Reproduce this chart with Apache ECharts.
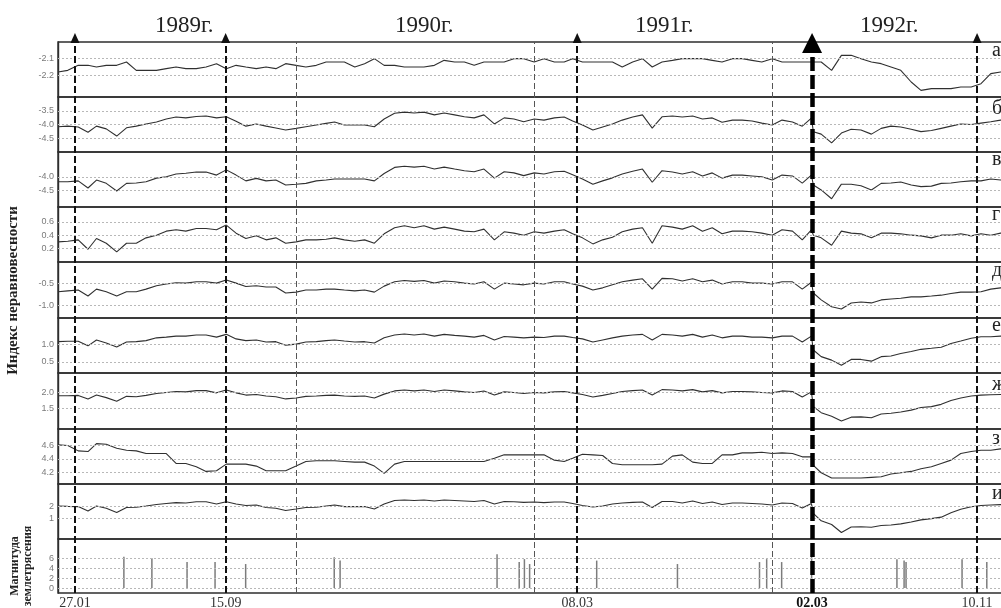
<!DOCTYPE html>
<html><head><meta charset="utf-8">
<script src="https://cdn.jsdelivr.net/npm/echarts@6/dist/echarts.min.js"></script>
<style>html,body{margin:0;padding:0;background:#fff}#c{width:1001px;height:608px}</style>
</head><body><div id="c"></div>
<script>
// sample dates (semi-monthly, extra point just after 02.03.1992)
const dates = [
'1989-01-01','1989-01-16','1989-02-01','1989-02-16','1989-03-01','1989-03-16','1989-04-01','1989-04-16','1989-05-01','1989-05-16','1989-06-01','1989-06-16','1989-07-01','1989-07-16','1989-08-01','1989-08-16','1989-09-01','1989-09-16','1989-10-01','1989-10-16','1989-11-01','1989-11-16','1989-12-01','1989-12-16',
'1990-01-01','1990-01-16','1990-02-01','1990-02-16','1990-03-01','1990-03-16','1990-04-01','1990-04-16','1990-05-01','1990-05-16','1990-06-01','1990-06-16','1990-07-01','1990-07-16','1990-08-01','1990-08-16','1990-09-01','1990-09-16','1990-10-01','1990-10-16','1990-11-01','1990-11-16','1990-12-01','1990-12-16',
'1991-01-01','1991-01-16','1991-02-01','1991-02-16','1991-03-01','1991-03-16','1991-04-01','1991-04-16','1991-05-01','1991-05-16','1991-06-01','1991-06-16','1991-07-01','1991-07-16','1991-08-01','1991-08-16','1991-09-01','1991-09-16','1991-10-01','1991-10-16','1991-11-01','1991-11-16','1991-12-01','1991-12-16',
'1992-01-01','1992-01-16','1992-02-01','1992-02-16','1992-03-01','1992-03-04','1992-03-16','1992-04-01','1992-04-16','1992-05-01','1992-05-16','1992-06-01','1992-06-16','1992-07-01','1992-07-16','1992-08-01','1992-08-16','1992-09-01','1992-09-16','1992-10-01','1992-10-16','1992-11-01','1992-11-16','1992-12-01','1992-12-16','1993-01-01'];

const seriesA = [
-2.18,-2.17,-2.14,-2.14,-2.15,-2.14,-2.14,-2.12,-2.17,-2.17,-2.17,-2.16,-2.15,-2.16,-2.16,-2.15,-2.13,-2.16,-2.14,-2.15,-2.16,-2.15,-2.16,-2.13,
-2.14,-2.15,-2.14,-2.12,-2.12,-2.12,-2.15,-2.13,-2.10,-2.14,-2.14,-2.15,-2.15,-2.15,-2.14,-2.11,-2.12,-2.12,-2.14,-2.12,-2.12,-2.12,-2.10,-2.10,
-2.12,-2.10,-2.12,-2.12,-2.10,-2.12,-2.12,-2.12,-2.12,-2.15,-2.12,-2.10,-2.15,-2.12,-2.11,-2.10,-2.10,-2.10,-2.11,-2.12,-2.10,-2.10,-2.11,-2.12,
-2.10,-2.12,-2.12,-2.12,-2.12,-2.12,-2.12,-2.17,-2.08,-2.08,-2.10,-2.12,-2.13,-2.15,-2.17,-2.24,-2.29,-2.28,-2.28,-2.28,-2.27,-2.27,-2.25,-2.19,-2.18,-2.18];
const seriesB = [
-4.08,-4.06,-4.09,-4.28,-4.06,-4.16,-4.42,-4.12,-4.06,-3.98,-3.91,-3.80,-3.73,-3.76,-3.71,-3.69,-3.76,-3.72,-3.88,-4.06,-3.98,-4.06,-4.13,-4.20,
-4.14,-4.08,-4.02,-3.96,-3.91,-4.02,-4.02,-4.02,-4.08,-3.80,-3.59,-3.55,-3.58,-3.55,-3.65,-3.58,-3.65,-3.72,-3.76,-3.65,-3.98,-3.76,-3.80,-3.90,
-3.80,-3.84,-3.76,-3.73,-3.87,-4.02,-4.20,-4.09,-3.98,-3.84,-3.73,-3.65,-4.13,-3.72,-3.69,-3.73,-3.69,-3.80,-3.76,-3.92,-3.84,-3.84,-3.87,-3.95,
-4.02,-3.84,-3.91,-4.06,-3.77,-4.26,-4.35,-4.67,-4.31,-4.17,-4.20,-4.35,-4.14,-4.06,-4.09,-4.17,-4.26,-4.22,-4.14,-4.06,-3.98,-4.00,-3.95,-3.90,-3.84,-3.84];
const seriesC = [
-4.18,-4.18,-4.15,-4.41,-4.12,-4.24,-4.52,-4.24,-4.23,-4.18,-4.05,-4.00,-3.90,-3.87,-3.83,-3.83,-3.94,-3.75,-3.94,-4.15,-4.06,-4.15,-4.12,-4.30,
-4.27,-4.24,-4.15,-4.12,-4.08,-4.08,-4.08,-4.08,-4.15,-3.88,-3.66,-3.62,-3.65,-3.62,-3.72,-3.65,-3.72,-3.78,-3.82,-3.72,-4.05,-3.82,-3.86,-3.96,
-3.86,-3.90,-3.82,-3.80,-3.93,-4.08,-4.27,-4.15,-4.04,-3.90,-3.80,-3.72,-4.20,-3.78,-3.83,-3.90,-3.82,-3.97,-3.86,-4.05,-3.94,-3.94,-3.97,-4.00,
-4.12,-3.94,-3.97,-4.23,-3.94,-4.30,-4.48,-4.80,-4.27,-4.27,-4.33,-4.48,-4.24,-4.23,-4.19,-4.30,-4.36,-4.34,-4.24,-4.23,-4.18,-4.15,-4.15,-4.08,-4.12,-4.12];
const seriesD = [
0.30,0.31,0.33,0.19,0.35,0.28,0.15,0.28,0.28,0.36,0.40,0.46,0.48,0.46,0.50,0.50,0.48,0.55,0.43,0.35,0.39,0.33,0.36,0.28,
0.30,0.33,0.33,0.34,0.36,0.33,0.31,0.33,0.28,0.42,0.51,0.54,0.51,0.54,0.49,0.52,0.49,0.46,0.45,0.49,0.33,0.45,0.43,0.40,
0.45,0.43,0.46,0.48,0.42,0.36,0.27,0.33,0.37,0.45,0.49,0.51,0.28,0.54,0.52,0.49,0.54,0.46,0.51,0.42,0.46,0.46,0.45,0.43,
0.40,0.48,0.46,0.33,0.48,0.40,0.36,0.25,0.46,0.43,0.42,0.36,0.43,0.43,0.42,0.40,0.39,0.36,0.40,0.40,0.42,0.39,0.42,0.40,0.43,0.43];
const seriesE = [
-0.69,-0.67,-0.65,-0.79,-0.63,-0.69,-0.79,-0.69,-0.69,-0.63,-0.55,-0.51,-0.48,-0.49,-0.46,-0.46,-0.49,-0.42,-0.49,-0.57,-0.55,-0.58,-0.58,-0.72,
-0.70,-0.65,-0.65,-0.63,-0.63,-0.65,-0.67,-0.65,-0.70,-0.56,-0.46,-0.43,-0.45,-0.43,-0.49,-0.44,-0.46,-0.49,-0.51,-0.46,-0.63,-0.49,-0.51,-0.53,
-0.49,-0.51,-0.46,-0.46,-0.51,-0.56,-0.65,-0.60,-0.53,-0.46,-0.42,-0.39,-0.63,-0.38,-0.39,-0.44,-0.39,-0.46,-0.42,-0.51,-0.46,-0.46,-0.49,-0.49,
-0.51,-0.46,-0.46,-0.63,-0.47,-0.72,-0.88,-1.04,-1.09,-0.95,-0.93,-0.95,-0.88,-0.86,-0.84,-0.81,-0.81,-0.79,-0.77,-0.73,-0.70,-0.70,-0.69,-0.63,-0.60,-0.60];
const seriesF = [
1.08,1.09,1.09,0.96,1.13,1.04,0.93,1.07,1.08,1.11,1.19,1.21,1.24,1.24,1.27,1.27,1.21,1.29,1.16,1.11,1.13,1.07,1.08,0.98,
1.01,1.07,1.08,1.11,1.13,1.10,1.07,1.08,1.04,1.19,1.27,1.30,1.27,1.30,1.24,1.29,1.26,1.24,1.21,1.26,1.13,1.23,1.21,1.19,
1.21,1.20,1.24,1.24,1.20,1.16,1.07,1.13,1.19,1.24,1.27,1.29,1.13,1.29,1.27,1.24,1.29,1.21,1.27,1.19,1.24,1.24,1.21,1.21,
1.19,1.24,1.24,1.07,1.24,0.84,0.65,0.55,0.40,0.57,0.57,0.52,0.65,0.67,0.74,0.80,0.86,0.89,0.92,1.03,1.10,1.18,1.22,1.22,1.24,1.24];
const seriesG = [
1.89,1.89,1.90,1.79,1.91,1.83,1.72,1.87,1.86,1.90,1.96,1.99,2.02,2.01,2.05,2.05,1.98,2.07,1.98,1.91,1.93,1.88,1.86,1.79,
1.82,1.87,1.88,1.90,1.91,1.88,1.87,1.88,1.82,1.94,2.04,2.07,2.04,2.07,2.02,2.07,2.04,2.01,1.99,2.04,1.91,2.01,1.99,1.96,
1.99,1.98,2.01,2.02,1.98,1.93,1.85,1.90,1.96,2.02,2.05,2.07,1.91,2.08,2.07,2.04,2.08,2.01,2.05,1.98,2.02,2.02,2.01,1.99,
1.98,2.04,2.02,1.85,2.01,1.55,1.36,1.25,1.10,1.22,1.23,1.20,1.32,1.34,1.38,1.44,1.52,1.55,1.62,1.74,1.82,1.88,1.91,1.92,1.93,1.93];
const seriesH = [
4.61,4.60,4.52,4.51,4.63,4.62,4.56,4.53,4.52,4.48,4.48,4.48,4.33,4.33,4.28,4.21,4.22,4.32,4.32,4.32,4.29,4.22,4.22,4.22,
4.29,4.36,4.37,4.37,4.37,4.36,4.35,4.35,4.29,4.18,4.32,4.36,4.36,4.36,4.36,4.36,4.36,4.36,4.36,4.36,4.41,4.46,4.46,4.46,
4.46,4.46,4.38,4.36,4.41,4.47,4.46,4.45,4.33,4.31,4.31,4.31,4.31,4.32,4.44,4.46,4.35,4.33,4.33,4.46,4.46,4.49,4.49,4.50,
4.48,4.49,4.48,4.43,4.43,4.30,4.19,4.11,4.11,4.11,4.11,4.12,4.13,4.17,4.19,4.21,4.25,4.28,4.33,4.38,4.48,4.51,4.53,4.53,4.55,4.55];
const seriesI = [
2.01,1.98,1.96,1.60,2.01,1.82,1.48,1.89,1.91,2.01,2.13,2.21,2.28,2.25,2.36,2.36,2.17,2.36,2.17,2.05,2.09,1.89,1.82,1.64,
1.76,1.89,1.91,2.01,2.09,1.96,1.96,1.96,1.76,2.17,2.46,2.50,2.46,2.50,2.42,2.50,2.46,2.42,2.38,2.46,2.17,2.38,2.36,2.30,
2.33,2.28,2.33,2.33,2.21,2.05,1.93,2.01,2.17,2.25,2.30,2.33,1.89,2.38,2.38,2.25,2.42,2.21,2.33,2.13,2.25,2.25,2.21,2.17,
2.09,2.25,2.21,1.84,2.21,1.41,0.80,0.50,-0.15,0.30,0.32,0.28,0.42,0.46,0.55,0.70,0.88,0.98,1.10,1.45,1.75,1.95,2.05,2.09,2.12,2.12];

// earthquakes
const eqDates = ['1989-04-11','1989-05-24','1989-07-17','1989-08-29','1989-10-15','1990-02-28','1990-03-09','1990-11-05','1990-12-09','1990-12-17','1990-12-25','1991-04-07','1991-08-09','1991-12-13','1991-12-24','1992-01-16','1992-03-02','1992-07-11','1992-07-22','1992-07-25','1992-10-19','1992-11-26'];
const eqMags = [6.4,6.1,5.3,5.3,4.9,6.3,5.6,6.9,5.3,5.9,4.9,5.6,4.9,5.3,5.9,5.3,6.9,5.9,5.6,5.3,5.9,5.3];

// axis ticks per panel
const panelTicks = [[-2.1,-2.2],[-3.5,-4.0,-4.5],[-4.0,-4.5],[0.6,0.4,0.2],[-0.5,-1.0],[1.0,0.5],[2.0,1.5],[4.6,4.4,4.2],[2,1],[6,4,2,0]];
const panelDecimals = [1,1,1,1,1,1,1,1,0,0];
const panelMin = [-2.33,-5.0,-5.1,0,-1.3,0.18,0.85,4.02,-0.68,-1];
const panelMax = [-2.0,-3.0,-3.1,0.82,0,1.76,2.6,4.85,3.8,10];
const panelLetters = ['а','б','в','г','д','е','ж','з','и'];
const yearLabels = ['1989г.','1990г.','1991г.','1992г.'];
const yearLineDates = ['1990-01-01','1991-01-01','1992-01-01'];
const eventDates = ['1989-01-27','1989-09-15','1991-03-08','1992-11-10'];
const eventLabels = ['27.01','15.09','08.03','10.11'];
const mainEventDate = '1992-03-02';
const mainEventLabel = '02.03';

// layout
const tops = [42,97,152,207,262,318,373,429,484,539];
const plotBottom = 593;
const letterTops = [41,99,150,205,261,316,375,429,484];
const yearLefts = [155,395,635,860];

const lineVals = [seriesA,seriesB,seriesC,seriesD,seriesE,seriesF,seriesG,seriesH,seriesI];
const X0 = '1989-01-01', X1 = '1993-01-01';
const grids = [], xAxes = [], yAxes = [], series = [];
function addGrid(top, height, show) {
  grids.push({left:58, right:-10, top:top, height:height, show:show, containLabel:false, outerBoundsMode:'none',
    borderColor:'#2e2e2e', borderWidth:1.4, backgroundColor:'rgba(0,0,0,0)'});
  const g = grids.length - 1;
  xAxes.push({type:'time', gridIndex:g, min:X0, max:X1, show:false});
  return g;
}
const hidY = (g) => ({type:'value', gridIndex:g, min:0, max:1, axisLine:{show:false}, axisTick:{show:false}, axisLabel:{show:false}, splitLine:{show:false}});

for (let p = 0; p < 10; p++) {
  const top = tops[p];
  const h = (p < 9 ? tops[p+1] : plotBottom) - top;
  const g = addGrid(top, h, true);
  const dec = panelDecimals[p];
  const y = {type:'value', gridIndex:g, min:panelMin[p], max:panelMax[p],
    axisLine:{show:true, lineStyle:{color:'#2e2e2e', width:1.4}},
    axisTick:{show:false, customValues:panelTicks[p]}, splitLine:{show:false},
    axisLabel:{customValues:panelTicks[p], interval:0, hideOverlap:false, formatter:(v)=>Number(v).toFixed(dec),
      color:'#7a7a7a', fontSize:9, fontFamily:'Liberation Sans', margin:4}};
  if (p === 9) {
    y.name = 'Магнитуда\nземлетрясения'; y.nameLocation = 'middle'; y.nameRotate = 90; y.nameGap = 24;
    y.nameTextStyle = {fontFamily:'Liberation Serif', fontWeight:'bold', fontSize:12, color:'#222', lineHeight:13};
  }
  yAxes.push(y);
  const ml = {silent:true, animation:false, symbol:['none','none'], label:{show:false},
    lineStyle:{color:'#b8b8b8', type:[2,2], width:1}, emphasis:{disabled:true},
    data: panelTicks[p].map(v => ({yAxis:v}))};
  if (p < 9) {
    series.push({type:'line', xAxisIndex:g, yAxisIndex:g, silent:true, animation:false, symbol:'none', showSymbol:false,
      lineStyle:{color:'#303030', width:1.1}, data: dates.map((d,i)=>[d, lineVals[p][i]]), markLine: ml});
  } else {
    series.push({type:'bar', xAxisIndex:g, yAxisIndex:g, silent:true, animation:false, barWidth:1.5,
      itemStyle:{color:'#7c7c7c'}, data: eqDates.map((d,i)=>[d, eqMags[i]]), markLine: ml});
  }
}
// overlay for the common y name (panels а–и)
const gName = addGrid(tops[0], tops[9]-tops[0], false);
const yn = hidY(gName); yn.name = 'Индекс неравновесности'; yn.nameLocation = 'middle'; yn.nameRotate = 90; yn.nameGap = 37;
yn.nameTextStyle = {fontFamily:'Liberation Serif', fontWeight:'bold', fontSize:15, color:'#222'};
yAxes.push(yn);
// overlay for year boundaries
const gYear = addGrid(tops[0], plotBottom - tops[0], false);
yAxes.push(hidY(gYear));
series.push({type:'line', xAxisIndex:gYear, yAxisIndex:gYear, data:[], silent:true, animation:false, clip:false,
  markLine:{silent:true, animation:false, symbol:['none','none'], label:{show:false}, lineStyle:{color:'#555', width:1, type:[6,3]},
    data: yearLineDates.map(d => ({xAxis:d}))}});
// overlay for thin event arrows
const gThin = addGrid(38, plotBottom - 38, false);
yAxes.push(hidY(gThin));
series.push({type:'line', xAxisIndex:gThin, yAxisIndex:gThin, data:[], silent:true, animation:false, clip:false,
  markLine:{silent:true, animation:false, symbol:['none','triangle'], symbolSize:[9,10],
    lineStyle:{color:'#111', width:2, type:[7,3]},
    label:{show:true, position:'start', distance:3, formatter:'{b}', fontFamily:'Liberation Serif', fontSize:14, color:'#333'},
    data: eventDates.map((d,i) => ({name:eventLabels[i], xAxis:d}))}});
// overlay for main event arrow
const gMain = addGrid(43, plotBottom - 43, false);
yAxes.push(hidY(gMain));
series.push({type:'line', xAxisIndex:gMain, yAxisIndex:gMain, data:[], silent:true, animation:false, clip:false,
  markLine:{silent:true, animation:false, symbol:['none','triangle'], symbolSize:[20,20],
    lineStyle:{color:'#000', width:4.5, type:[14,4]},
    label:{show:true, position:'start', distance:3, formatter:'{b}', fontFamily:'Liberation Serif', fontSize:14, fontWeight:'bold', color:'#111'},
    data: [{name:mainEventLabel, xAxis:mainEventDate}]}});

const titles = [];
yearLabels.forEach((t,i) => titles.push({text:t, left:yearLefts[i], top:14, padding:0,
  textStyle:{fontFamily:'Liberation Serif', fontSize:23, fontWeight:'normal', color:'#222'}}));
panelLetters.forEach((t,i) => titles.push({text:t, left:992, top:letterTops[i], padding:0,
  textStyle:{fontFamily:'Liberation Serif', fontSize:20, fontWeight:'normal', color:'#222'}}));

const chart = echarts.init(document.getElementById('c'));
chart.setOption({animation:false, backgroundColor:'#fff', title:titles, grid:grids, xAxis:xAxes, yAxis:yAxes, series:series});
</script></body></html>
